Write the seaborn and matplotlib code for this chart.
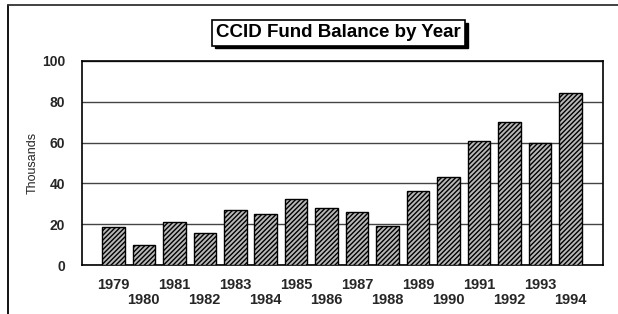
import matplotlib
matplotlib.use("Agg")
import matplotlib.pyplot as plt
import matplotlib.patches as mpatches
import seaborn as sns
import pandas as pd

years = [str(y) for y in range(1979, 1995)]
balance = [18.7, 10.0, 21.0, 15.7, 27.0, 24.8, 32.1, 28.0, 26.2, 19.0,
           36.2, 43.1, 60.8, 70.0, 59.7, 84.4]
yticks = [0, 20, 40, 60, 80, 100]

df = pd.DataFrame({"year": years, "balance": balance})

sns.set_style("white")
plt.rcParams['font.family'] = ['Liberation Sans', 'DejaVu Sans']
plt.rcParams['hatch.linewidth'] = 1.0

fig = plt.figure(figsize=(6.18, 3.14), dpi=100)
ax = fig.add_axes([0.1327, 0.156, 0.843, 0.65])

sns.barplot(data=df, x="year", y="balance", ax=ax, color="#b8b8b8",
            width=0.74, edgecolor="black", linewidth=1.0, hatch="///////",
            zorder=3)

ax.set_xlim(-1.03, 16.07)
ax.set_ylim(0, 100)
ax.set_yticks(yticks)
ax.set_yticklabels([str(v) for v in yticks], fontsize=10, fontweight="bold")
ax.yaxis.grid(True, color="#444444", linewidth=1.0, zorder=0)
ax.set_axisbelow(True)

# staggered year labels
labels = [y if i % 2 == 0 else "\n" + y for i, y in enumerate(years)]
ax.set_xticks(range(len(years)))
ax.set_xticklabels(labels, fontsize=10.5, fontweight="bold", linespacing=1.15)
ax.tick_params(axis="both", length=0)
ax.tick_params(axis="x", pad=9)
ax.tick_params(axis="y", pad=12)

ax.set_xlabel("")
ax.set_ylabel("Thousands", fontsize=9)
ax.yaxis.set_label_coords(-0.084, 0.5)

for s in ax.spines.values():
    s.set_visible(True)
    s.set_color("black")
    s.set_linewidth(1.2)

# title with box and drop shadow
title = fig.text(0.548, 0.895, "CCID Fund Balance by Year", color="black",
                 ha="center", va="center", fontsize=13.5, fontweight="bold",
                 bbox=dict(boxstyle="square,pad=0.22", facecolor="white",
                           edgecolor="black", linewidth=1.2),
                 zorder=5)
fig.canvas.draw()
bb = title.get_bbox_patch().get_window_extent().transformed(
    fig.transFigure.inverted())
dx, dy = 2.5 / 618, 2.5 / 314
fig.add_artist(mpatches.Rectangle((bb.x0 + dx, bb.y0 - dy), bb.width, bb.height,
                                  facecolor="black", edgecolor="black",
                                  transform=fig.transFigure, zorder=4))

# outer frame (left and top edges)
fig.add_artist(plt.Line2D([0.013, 0.013], [0.0, 0.984], color="black",
                          linewidth=1.3, transform=fig.transFigure))
fig.add_artist(plt.Line2D([0.013, 1.0], [0.984, 0.984], color="#333333",
                          linewidth=1.3, transform=fig.transFigure))

fig.savefig("out.png", dpi=100)
